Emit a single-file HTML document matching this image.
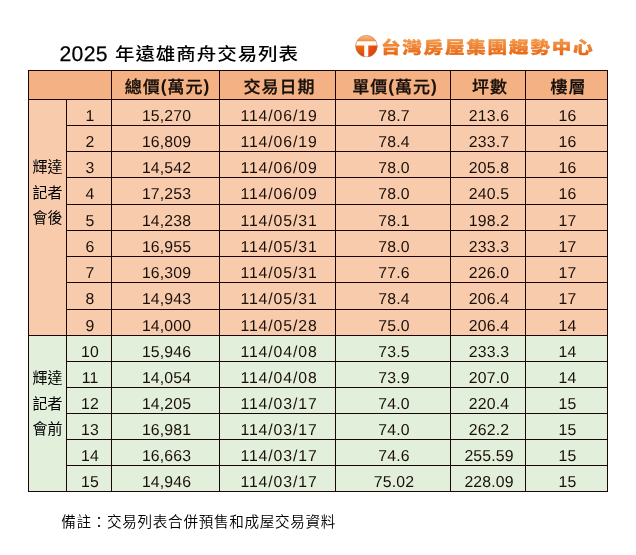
<!DOCTYPE html>
<html lang="zh-Hant">
<head>
<meta charset="utf-8">
<title>2025 年遠雄商舟交易列表</title>
<style>
html,body{margin:0;padding:0;background:#fff;}
body{width:636px;height:555px;position:relative;overflow:hidden;font-family:"Liberation Sans","Noto Sans CJK TC",sans-serif;color:#000;}
.title{position:absolute;left:59.5px;top:38.5px;font-size:20.9px;line-height:30px;white-space:nowrap;}
.tn{font-size:21.2px;letter-spacing:0.3px;text-rendering:geometricPrecision;-webkit-text-stroke:0.25px #000;}
.tc{display:inline-block;font-size:19.5px;letter-spacing:0.95px;margin-left:1.3px;font-weight:500;transform:scaleY(0.9);transform-origin:0 70%;position:relative;top:-1px;}
.grid{position:absolute;left:28px;top:70px;display:grid;background:#1a0606;padding:1px;gap:1px;
grid-template-columns:37px 44px 107px 115px 114px 74px 81px;
grid-template-rows:28px 25px 25px 25px 26px 25px 25px 25px 26px 25px 25px 25px 25px 25px 25px 25px;}
.grid div{display:flex;align-items:flex-start;justify-content:center;font-size:15.8px;line-height:18px;letter-spacing:0.15px;white-space:nowrap;box-sizing:border-box;padding-top:8.4px;padding-left:2px;}
.grid .h{align-items:center;line-height:24px;background:#f4b183;font-weight:500;-webkit-text-stroke:0.25px #000;font-size:17px !important;letter-spacing:1px;padding-top:6px !important;padding-left:4px;font-family:"Liberation Sans","Noto Sans CJK TC",sans-serif;}
.grid div span{display:inline-block;text-rendering:geometricPrecision;color:#1a100a;}
.grid .d{letter-spacing:0.9px;padding-left:3px;}
.h b{position:relative;top:-1px;font-size:17.5px;line-height:0;-webkit-text-stroke:0;}
.o{background:#f8cbad;}
.g{background:#e2efda;}
.grid .lab{align-items:center;padding-left:0;letter-spacing:0;font-size:15px !important;line-height:25.5px;white-space:normal !important;text-align:center;padding-top:0 !important;}
.note{font-weight:350;position:absolute;left:61.2px;top:511.3px;font-size:14.6px;letter-spacing:0.68px;line-height:22px;white-space:nowrap;}
</style>
</head>
<body>
<div class="title"><span class="tn">2025</span> <span class="tc">年遠雄商舟交易列表</span></div>
<svg class="logo" width="260" height="40" viewBox="0 0 260 40" style="position:absolute;left:350px;top:26px;overflow:visible">
<defs>
<linearGradient id="tg" x1="0" y1="0" x2="0" y2="1"><stop offset="0" stop-color="#f4a052"/><stop offset="1" stop-color="#e7620e"/></linearGradient>
<linearGradient id="cg" x1="0" y1="0" x2="0" y2="1"><stop offset="0" stop-color="#f7c79a"/><stop offset="0.28" stop-color="#ee8a3a"/><stop offset="0.6" stop-color="#e8600f"/><stop offset="1" stop-color="#c9480c"/></linearGradient>
<linearGradient id="rg" x1="0" y1="0" x2="1" y2="1"><stop offset="0" stop-color="#ee5a14"/><stop offset="1" stop-color="#d8300c"/></linearGradient>
<clipPath id="cc"><circle cx="16.4" cy="20.1" r="10.9"/></clipPath>
</defs>
<g clip-path="url(#cc)">
<rect x="5" y="9" width="23" height="23" fill="url(#cg)"/>
<rect x="17" y="19" width="12" height="13" fill="url(#rg)"/>
<path d="M6.8 15.3H26a2 2 0 0 1 2 2V19.4H18.3V32H14.2V19.4H4.8V17.3a2 2 0 0 1 2-2z" fill="#fffaf3"/>
</g>
<circle cx="16.4" cy="20.1" r="10.7" fill="none" stroke="#b9764a" stroke-width="0.5"/>
<g transform="translate(0,26.6) scale(1,0.79)">
<text x="30.9" y="0" font-family="'Liberation Sans','Noto Sans CJK TC',sans-serif" font-weight="900" font-size="19.6" letter-spacing="1.75" fill="url(#tg)" stroke="url(#tg)" stroke-width="0.4" stroke-linejoin="miter">台灣房屋集團趨勢中心</text>
</g>
</svg>
<div class="grid">
<div class="h" style="grid-column:1/3"></div><div class="h"><span>總價<b>(</b>萬元<b>)</b></span></div><div class="h"><span>交易日期</span></div><div class="h"><span>單價<b>(</b>萬元<b>)</b></span></div><div class="h"><span>坪數</span></div><div class="h"><span>樓層</span></div>
<div class="o lab" style="grid-row:2/11;padding-bottom:50px">輝達<br>記者<br>會後</div>
<div class="o"><span>1</span></div><div class="o"><span>15,270</span></div><div class="o d"><span>114/06/19</span></div><div class="o"><span>78.7</span></div><div class="o"><span>213.6</span></div><div class="o"><span>16</span></div>
<div class="o"><span>2</span></div><div class="o"><span>16,809</span></div><div class="o d"><span>114/06/19</span></div><div class="o"><span>78.4</span></div><div class="o"><span>233.7</span></div><div class="o"><span>16</span></div>
<div class="o"><span>3</span></div><div class="o"><span>14,542</span></div><div class="o d"><span>114/06/09</span></div><div class="o"><span>78.0</span></div><div class="o"><span>205.8</span></div><div class="o"><span>16</span></div>
<div class="o"><span>4</span></div><div class="o"><span>17,253</span></div><div class="o d"><span>114/06/09</span></div><div class="o"><span>78.0</span></div><div class="o"><span>240.5</span></div><div class="o"><span>16</span></div>
<div class="o"><span>5</span></div><div class="o"><span>14,238</span></div><div class="o d"><span>114/05/31</span></div><div class="o"><span>78.1</span></div><div class="o"><span>198.2</span></div><div class="o"><span>17</span></div>
<div class="o"><span>6</span></div><div class="o"><span>16,955</span></div><div class="o d"><span>114/05/31</span></div><div class="o"><span>78.0</span></div><div class="o"><span>233.3</span></div><div class="o"><span>17</span></div>
<div class="o"><span>7</span></div><div class="o"><span>16,309</span></div><div class="o d"><span>114/05/31</span></div><div class="o"><span>77.6</span></div><div class="o"><span>226.0</span></div><div class="o"><span>17</span></div>
<div class="o"><span>8</span></div><div class="o"><span>14,943</span></div><div class="o d"><span>114/05/31</span></div><div class="o"><span>78.4</span></div><div class="o"><span>206.4</span></div><div class="o"><span>17</span></div>
<div class="o"><span>9</span></div><div class="o"><span>14,000</span></div><div class="o d"><span>114/05/28</span></div><div class="o"><span>75.0</span></div><div class="o"><span>206.4</span></div><div class="o"><span>14</span></div>
<div class="g lab" style="grid-row:11/17;padding-bottom:20px">輝達<br>記者<br>會前</div>
<div class="g"><span>10</span></div><div class="g"><span>15,946</span></div><div class="g d"><span>114/04/08</span></div><div class="g"><span>73.5</span></div><div class="g"><span>233.3</span></div><div class="g"><span>14</span></div>
<div class="g"><span>11</span></div><div class="g"><span>14,054</span></div><div class="g d"><span>114/04/08</span></div><div class="g"><span>73.9</span></div><div class="g"><span>207.0</span></div><div class="g"><span>14</span></div>
<div class="g"><span>12</span></div><div class="g"><span>14,205</span></div><div class="g d"><span>114/03/17</span></div><div class="g"><span>74.0</span></div><div class="g"><span>220.4</span></div><div class="g"><span>15</span></div>
<div class="g"><span>13</span></div><div class="g"><span>16,981</span></div><div class="g d"><span>114/03/17</span></div><div class="g"><span>74.0</span></div><div class="g"><span>262.2</span></div><div class="g"><span>15</span></div>
<div class="g"><span>14</span></div><div class="g"><span>16,663</span></div><div class="g d"><span>114/03/17</span></div><div class="g"><span>74.6</span></div><div class="g"><span>255.59</span></div><div class="g"><span>15</span></div>
<div class="g"><span>15</span></div><div class="g"><span>14,946</span></div><div class="g d"><span>114/03/17</span></div><div class="g"><span>75.02</span></div><div class="g"><span>228.09</span></div><div class="g"><span>15</span></div>
</div>
<div class="note">備註：交易列表合併預售和成屋交易資料</div>
</body>
</html>
